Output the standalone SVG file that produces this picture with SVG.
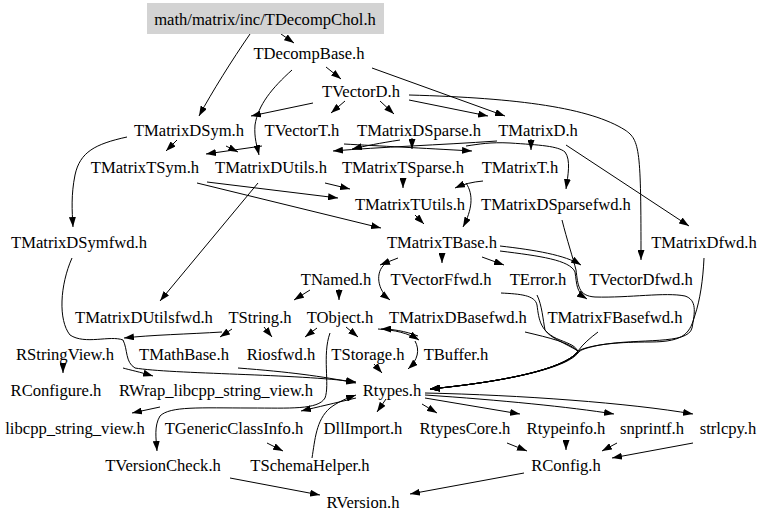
<svg xmlns="http://www.w3.org/2000/svg" width="768" height="522" viewBox="0 0 768 522">
<style>
text{font-family:"Liberation Serif","Times New Roman",serif;font-size:16.6px;fill:#000;text-anchor:middle}
.e{fill:none;stroke:#000;stroke-width:1;marker-end:url(#a)}
</style>
<defs>
<marker id="a" viewBox="0 0 10 7" markerWidth="10" markerHeight="7" refX="10" refY="3.5" orient="auto" markerUnits="userSpaceOnUse"><path d="M0,0L10,3.5L0,7z" fill="#000"/></marker>
</defs>
<rect width="768" height="522" fill="#fff"/>
<g id="edges">
<path class="e" d="M281,34L294,43"/>
<path class="e" d="M250,34C232,60 212,92 199,116"/>
<path class="e" d="M326,67L341,79"/>
<path class="e" d="M292,70C272,88 258,105 255,125C254,138 257,146 259,155"/>
<path class="e" d="M372,68L505,116"/>
<path class="e" d="M313,103L251,116"/>
<path class="e" d="M345,101L331,113"/>
<path class="e" d="M380,101L394,114"/>
<path class="e" d="M409,100L488,116"/>
<path class="e" d="M409,95C520,98 590,108 625,130C640,140 641,150 641,260"/>
<path class="e" d="M177,140L166,151"/>
<path class="e" d="M127,137C95,144 80,152 75,175C71,195 72,210 73,227"/>
<path class="e" d="M226,146L238,152"/>
<path class="e" d="M262,146L206,154"/>
<path class="e" d="M344,144C380,146 420,148 472,151"/>
<path class="e" d="M412,138L412,149"/>
<path class="e" d="M531,139L531,150"/>
<path class="e" d="M497,141C440,145 380,147 333,151"/>
<path class="e" d="M400,140C380,143 365,146 352,149"/>
<path class="e" d="M466,146C480,144 490,142 510,143C540,145 558,146 565,152C571,160 568,175 566,189"/>
<path class="e" d="M566,145L689,226"/>
<path class="e" d="M207,182L338,198"/>
<path class="e" d="M197,183L381,228"/>
<path class="e" d="M325,183L350,189"/>
<path class="e" d="M258,183L160,301"/>
<path class="e" d="M403,178L403,188"/>
<path class="e" d="M483,181C472,182 464,184 455,188"/>
<path class="e" d="M466,183C474,195 472,210 463,227"/>
<path class="e" d="M415,215L424,224"/>
<path class="e" d="M500,246C535,250 565,255 581,265"/>
<path class="e" d="M500,251C540,256 570,260 575,272C577,285 576,292 587,299"/>
<path class="e" d="M562,220C567,240 573,258 576,270C578,285 578,296 595,297C630,298 665,292 685,296C697,300 695,312 692,328C688,345 640,338 600,345C585,348 580,350 578,353C568,366 520,380 430,389"/>
<path class="e" d="M704,258C703,280 700,300 695,315C690,332 686,342 650,342C620,342 595,344 580,350C568,366 520,380 430,389"/>
<path class="e" d="M501,293C520,294 535,295 537,305C539,320 540,332 560,340C570,344 576,346 578,352C568,366 520,380 430,389"/>
<path class="e" d="M537,295C542,305 543,320 545,330C550,338 565,343 578,351C568,366 520,380 430,389"/>
<path class="e" d="M525,332C550,338 568,342 578,351C568,366 520,380 430,389"/>
<path class="e" d="M598,332C590,338 583,344 578,351C568,366 520,380 430,389"/>
<path class="e" d="M422,404L437,413"/>
<path class="e" d="M386,399L377,412"/>
<path class="e" d="M425,398L520,414"/>
<path class="e" d="M425,395C500,400 570,407 614,414"/>
<path class="e" d="M425,393C520,395 630,403 693,414"/>
<path class="e" d="M356,398C335,403 318,407 301,411"/>
<path class="e" d="M312,458C315,440 316,420 330,408C338,402 345,399 356,395"/>
<path class="e" d="M330,333C322,355 330,385 325,398C318,410 290,408 250,408C200,408 170,406 160,416C154,426 156,438 157,451"/>
<path class="e" d="M267,443L283,451"/>
<path class="e" d="M230,478L320,495"/>
<path class="e" d="M524,473L410,494"/>
<path class="e" d="M507,443L527,451"/>
<path class="e" d="M566,441L566,450"/>
<path class="e" d="M617,443L602,451"/>
<path class="e" d="M693,443L612,458"/>
<path class="e" d="M160,407L132,413"/>
<path class="e" d="M63,364L63,373"/>
<path class="e" d="M123,368C130,370 140,372 153,376"/>
<path class="e" d="M72,258C60,285 58,320 70,335C85,345 110,335 123,340C128,350 125,362 135,368C170,374 300,374 356,382"/>
<path class="e" d="M238,368C290,372 320,376 356,383"/>
<path class="e" d="M222,332C190,334 150,335 124,338"/>
<path class="e" d="M232,329L220,337"/>
<path class="e" d="M264,327L272,337"/>
<path class="e" d="M317,328L305,337"/>
<path class="e" d="M346,327L358,337"/>
<path class="e" d="M378,329C395,330 408,333 419,340"/>
<path class="e" d="M418,336C405,331 392,329 381,329"/>
<path class="e" d="M415,341C420,350 418,360 408,369"/>
<path class="e" d="M374,364L382,373"/>
<path class="e" d="M310,290L294,300"/>
<path class="e" d="M339,289L339,300"/>
<path class="e" d="M398,258L380,265"/>
<path class="e" d="M385,264C375,272 377,290 390,300"/>
<path class="e" d="M442,254L442,263"/>
<path class="e" d="M482,257L504,265"/>
</g>
<g id="n_TDecompChol"><rect x="147" y="3" width="237" height="31" fill="#d3d3d3"/><text x="265" y="24.5">math/matrix/inc/TDecompChol.h</text></g>
<g id="n_TDecompBase"><text x="309" y="58.5">TDecompBase.h</text></g>
<g id="n_TVectorD"><text x="361" y="96.5">TVectorD.h</text></g>
<g id="n_TMatrixDSym"><text x="189" y="135.5">TMatrixDSym.h</text></g>
<g id="n_TVectorT"><text x="302" y="135.5">TVectorT.h</text></g>
<g id="n_TMatrixDSparse"><text x="419" y="135.5">TMatrixDSparse.h</text></g>
<g id="n_TMatrixD"><text x="538" y="135.5">TMatrixD.h</text></g>
<g id="n_TMatrixTSym"><text x="145" y="172.5">TMatrixTSym.h</text></g>
<g id="n_TMatrixDUtils"><text x="271" y="172.5">TMatrixDUtils.h</text></g>
<g id="n_TMatrixTSparse"><text x="403" y="172.5">TMatrixTSparse.h</text></g>
<g id="n_TMatrixT"><text x="520" y="172.5">TMatrixT.h</text></g>
<g id="n_TMatrixTUtils"><text x="410" y="209.5">TMatrixTUtils.h</text></g>
<g id="n_TMatrixDSparsefwd"><text x="556" y="209.5">TMatrixDSparsefwd.h</text></g>
<g id="n_TMatrixDSymfwd"><text x="79" y="247.5">TMatrixDSymfwd.h</text></g>
<g id="n_TMatrixTBase"><text x="442" y="247.5">TMatrixTBase.h</text></g>
<g id="n_TMatrixDfwd"><text x="704" y="247.5">TMatrixDfwd.h</text></g>
<g id="n_TNamed"><text x="336" y="284.5">TNamed.h</text></g>
<g id="n_TVectorFfwd"><text x="441" y="284.5">TVectorFfwd.h</text></g>
<g id="n_TError"><text x="538" y="284.5">TError.h</text></g>
<g id="n_TVectorDfwd"><text x="641" y="284.5">TVectorDfwd.h</text></g>
<g id="n_TMatrixDUtilsfwd"><text x="144" y="322.5">TMatrixDUtilsfwd.h</text></g>
<g id="n_TString"><text x="260" y="322.5">TString.h</text></g>
<g id="n_TObject"><text x="340" y="322.5">TObject.h</text></g>
<g id="n_TMatrixDBasefwd"><text x="458" y="322.5">TMatrixDBasefwd.h</text></g>
<g id="n_TMatrixFBasefwd"><text x="615" y="322.5">TMatrixFBasefwd.h</text></g>
<g id="n_RStringView"><text x="65" y="359.5">RStringView.h</text></g>
<g id="n_TMathBase"><text x="184" y="359.5">TMathBase.h</text></g>
<g id="n_Riosfwd"><text x="281" y="359.5">Riosfwd.h</text></g>
<g id="n_TStorage"><text x="368" y="359.5">TStorage.h</text></g>
<g id="n_TBuffer"><text x="456" y="359.5">TBuffer.h</text></g>
<g id="n_RConfigure"><text x="56" y="395.5">RConfigure.h</text></g>
<g id="n_RWrap"><text x="216" y="395.5">RWrap_libcpp_string_view.h</text></g>
<g id="n_Rtypes"><text x="392" y="395.5">Rtypes.h</text></g>
<g id="n_libcpp"><text x="75" y="433.5">libcpp_string_view.h</text></g>
<g id="n_TGenericClassInfo"><text x="234" y="433.5">TGenericClassInfo.h</text></g>
<g id="n_DllImport"><text x="363" y="433.5">DllImport.h</text></g>
<g id="n_RtypesCore"><text x="465" y="433.5">RtypesCore.h</text></g>
<g id="n_Rtypeinfo"><text x="566" y="433.5">Rtypeinfo.h</text></g>
<g id="n_snprintf"><text x="652" y="433.5">snprintf.h</text></g>
<g id="n_strlcpy"><text x="728" y="433.5">strlcpy.h</text></g>
<g id="n_TVersionCheck"><text x="163" y="470.5">TVersionCheck.h</text></g>
<g id="n_TSchemaHelper"><text x="310" y="470.5">TSchemaHelper.h</text></g>
<g id="n_RConfig"><text x="566" y="470.5">RConfig.h</text></g>
<g id="n_RVersion"><text x="363" y="507.5">RVersion.h</text></g>
</svg>
